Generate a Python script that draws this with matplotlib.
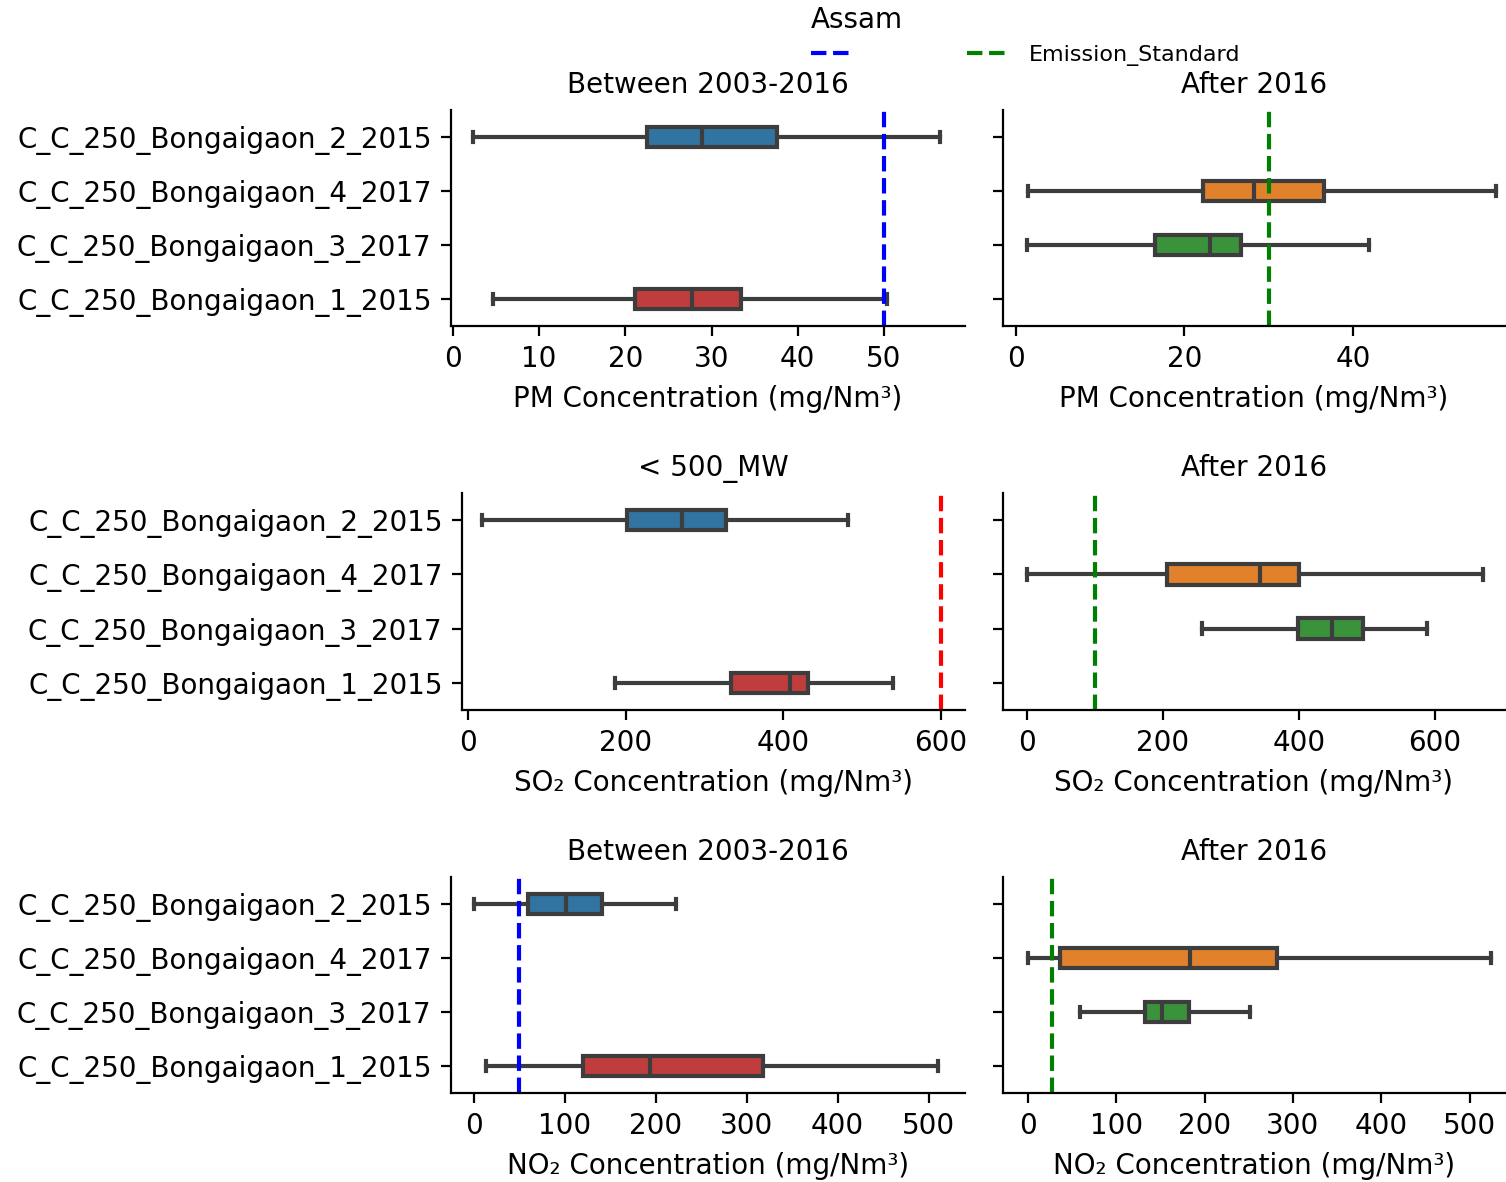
import matplotlib
matplotlib.use("Agg")
import matplotlib.pyplot as plt
from matplotlib.lines import Line2D

# categories (top to bottom) and their box colours
units = [
    "C_C_250_Bongaigaon_2_2015",
    "C_C_250_Bongaigaon_4_2017",
    "C_C_250_Bongaigaon_3_2017",
    "C_C_250_Bongaigaon_1_2015",
]
unit_colors = ["#3274a1", "#e1812c", "#3a923a", "#c03d3e"]

# box summaries per unit: [whisker low, q1, median, q3, whisker high]
pm_old = [[2.3, 22.5, 28.9, 37.6, 56.5], None, None, [4.6, 21.1, 27.7, 33.4, 50.4]]
pm_new = [None, [1.5, 22.2, 28.3, 36.5, 56.9], [1.3, 16.5, 23.0, 26.7, 41.9], None]
so2_old = [[17, 201, 271, 328, 483], None, None, [187, 334, 409, 432, 539]]
so2_new = [None, [0, 206, 343, 400, 670], [257, 398, 448, 494, 588], None]
no2_old = [[0, 60, 101, 141, 222], None, None, [13, 120, 194, 318, 510]]
no2_new = [None, [0, 37, 184, 282, 524], [59, 133, 152, 183, 252], None]

# emission standards (left panel, right panel)
pm_std = [50, 30]
so2_std = [600, 100]
no2_std = [50, 27]

W, H = 1506, 1182
GRAY = "#3d3d3d"


def rect(l, t, r, b):
    return [l / W, 1 - b / H, (r - l) / W, (b - t) / H]


def draw(ax, stats, std, std_color, title, xlabel, xlim, xticks, show_labels):
    bx = []
    pos = []
    cols = []
    for i, s in enumerate(stats):
        if s is None:
            continue
        bx.append(dict(whislo=s[0], q1=s[1], med=s[2], q3=s[3], whishi=s[4], fliers=[]))
        pos.append(i)
        cols.append(unit_colors[i])
    lp = dict(color=GRAY, linewidth=1.5)
    parts = ax.bxp(bx, positions=pos, widths=0.38, vert=False, patch_artist=True,
                   showfliers=False, boxprops=dict(edgecolor=GRAY, linewidth=1.5),
                   whiskerprops=lp, capprops=lp, medianprops=lp)
    for patch, c in zip(parts["boxes"], cols):
        patch.set_facecolor(c)
    line = ax.axvline(std, color=std_color, linestyle="--", linewidth=1.5)
    ax.set_ylim(3.5, -0.5)
    ax.set_yticks(range(len(units)))
    if show_labels:
        ax.set_yticklabels(units)
    else:
        ax.set_yticklabels([])
    ax.set_xlim(*xlim)
    ax.set_xticks(xticks)
    ax.set_title(title, fontsize=10)
    ax.set_xlabel(xlabel)
    for side in ("top", "right"):
        ax.spines[side].set_visible(False)
    return line


fig = plt.figure(figsize=(W / 200, H / 200), dpi=200)

ax1 = fig.add_axes(rect(451, 110, 965, 326))
ax2 = fig.add_axes(rect(1003, 110, 1505, 326))
ax3 = fig.add_axes(rect(462, 493, 965, 710))
ax4 = fig.add_axes(rect(1003, 493, 1505, 710))
ax5 = fig.add_axes(rect(451, 877, 965, 1093))
ax6 = fig.add_axes(rect(1003, 877, 1505, 1093))

pm_lab = "PM Concentration (mg/Nm³)"
so2_lab = "SO₂ Concentration (mg/Nm³)"
no2_lab = "NO₂ Concentration (mg/Nm³)"

draw(ax1, pm_old, pm_std[0], "blue", "Between 2003-2016", pm_lab,
     (-0.23, 59.4), [0, 10, 20, 30, 40, 50], True)
draw(ax2, pm_new, pm_std[1], "green", "After 2016", pm_lab,
     (-1.5, 58.0), [0, 20, 40], False)
draw(ax3, so2_old, so2_std[0], "red", "< 500_MW", so2_lab,
     (-8, 631), [0, 200, 400, 600], True)
draw(ax4, so2_new, so2_std[1], "green", "After 2016", so2_lab,
     (-35, 703), [0, 200, 400, 600], False)
draw(ax5, no2_old, no2_std[0], "blue", "Between 2003-2016", no2_lab,
     (-25, 540), [0, 100, 200, 300, 400, 500], True)
draw(ax6, no2_new, no2_std[1], "green", "After 2016", no2_lab,
     (-28, 540), [0, 100, 200, 300, 400, 500], False)

handles = [Line2D([], [], color="blue", linestyle="--", linewidth=1.5),
           Line2D([], [], color="green", linestyle="--", linewidth=1.5)]
leg = fig.legend(handles, ["", "Emission_Standard"], title="Assam", loc="upper left",
                 bbox_to_anchor=(791 / W, 1.012), ncol=2, frameon=False, fontsize=8,
                 title_fontsize=10, columnspacing=4.2, alignment="left")

fig.savefig("out.png", dpi=200)
